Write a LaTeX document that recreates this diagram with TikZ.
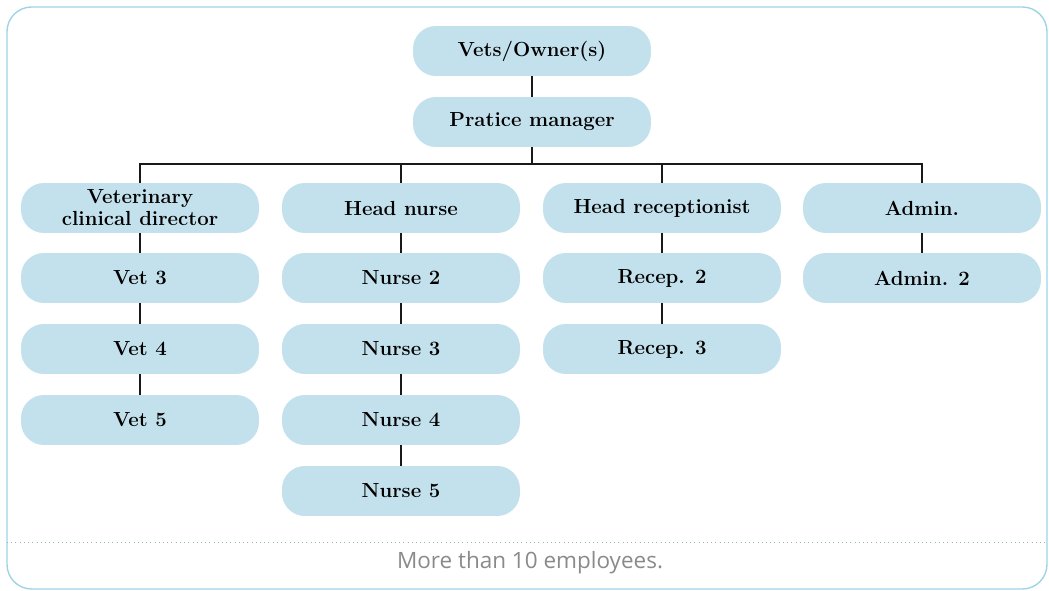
\documentclass[tikz,border=0pt]{standalone}
\usepackage{fontspec}
\usepackage{xcolor}
\newfontfamily\capfont{Open Sans}
\definecolor{boxblue}{HTML}{C3E1EC}
\definecolor{frameblue}{HTML}{9FD4E6}
\definecolor{capgray}{HTML}{8A8A8A}
\tikzset{staff/.style={fill=boxblue,rounded corners=13pt,minimum width=4.76cm,
   minimum height=1cm,inner sep=0pt,align=center,
   font=\fontsize{11.6}{12.5}\selectfont\bfseries},
 link/.style={draw=black!90,line width=1.1pt},
 frame/.style={draw=frameblue,line width=0.8pt,rounded corners=14pt},
 }

\begin{document}
\begin{tikzpicture}[x=0.02cm,y=-0.02cm]
        \useasboundingbox (0,0) rectangle (1049,591);
        \draw[frame] (7,7) rectangle (1047,589);
        \draw[frameblue!60!gray,dotted,line width=0.4pt] (7,542) -- (1047,542);
        \node[text=capgray,font=\capfont\fontsize{12.8}{14}\selectfont] (cap) at (530,563) {More than 10 employees.};
        % top of the chart
        \node[staff] (own) at (532,51) {Vets/Owner(s)};
        \node[staff] (mgr) at (532,122) {Pratice manager};
        \coordinate (bus) at (532,164);
        % heads
        \node[staff] (vcd) at (140,208) {Veterinary\\clinical director};
        \node[staff] (hn) at (401,208) {Head nurse};
        \node[staff] (hr) at (662,208) {Head receptionist};
        \node[staff] (adm) at (922,208) {Admin.};
        % staff below
        \node[staff] (v3) at (140,278) {Vet 3};
        \node[staff] (v4) at (140,349) {Vet 4};
        \node[staff] (v5) at (140,420) {Vet 5};
        \node[staff] (n2) at (401,278) {Nurse 2};
        \node[staff] (n3) at (401,349) {Nurse 3};
        \node[staff] (n4) at (401,420) {Nurse 4};
        \node[staff] (n5) at (401,491) {Nurse 5};
        \node[staff] (r2) at (662,278) {Recep. 2};
        \node[staff] (r3) at (662,349) {Recep. 3};
        \node[staff] (a2) at (922,278) {Admin. 2};
        % lines
        \draw[link] (own) -- (mgr);
        \draw[link] (mgr) -- (bus);
        \draw[link] (vcd) |- (bus) -| (adm);
        \draw[link] (hn) -- (hn |- bus);
        \draw[link] (hr) -- (hr |- bus);
        \foreach \a/\b in {vcd/v3, v3/v4, v4/v5, hn/n2, n2/n3, n3/n4, n4/n5, hr/r2, r2/r3, adm/a2} {
            \draw[link] (\a) -- (\b);
        }
    \end{tikzpicture}
\end{document}
